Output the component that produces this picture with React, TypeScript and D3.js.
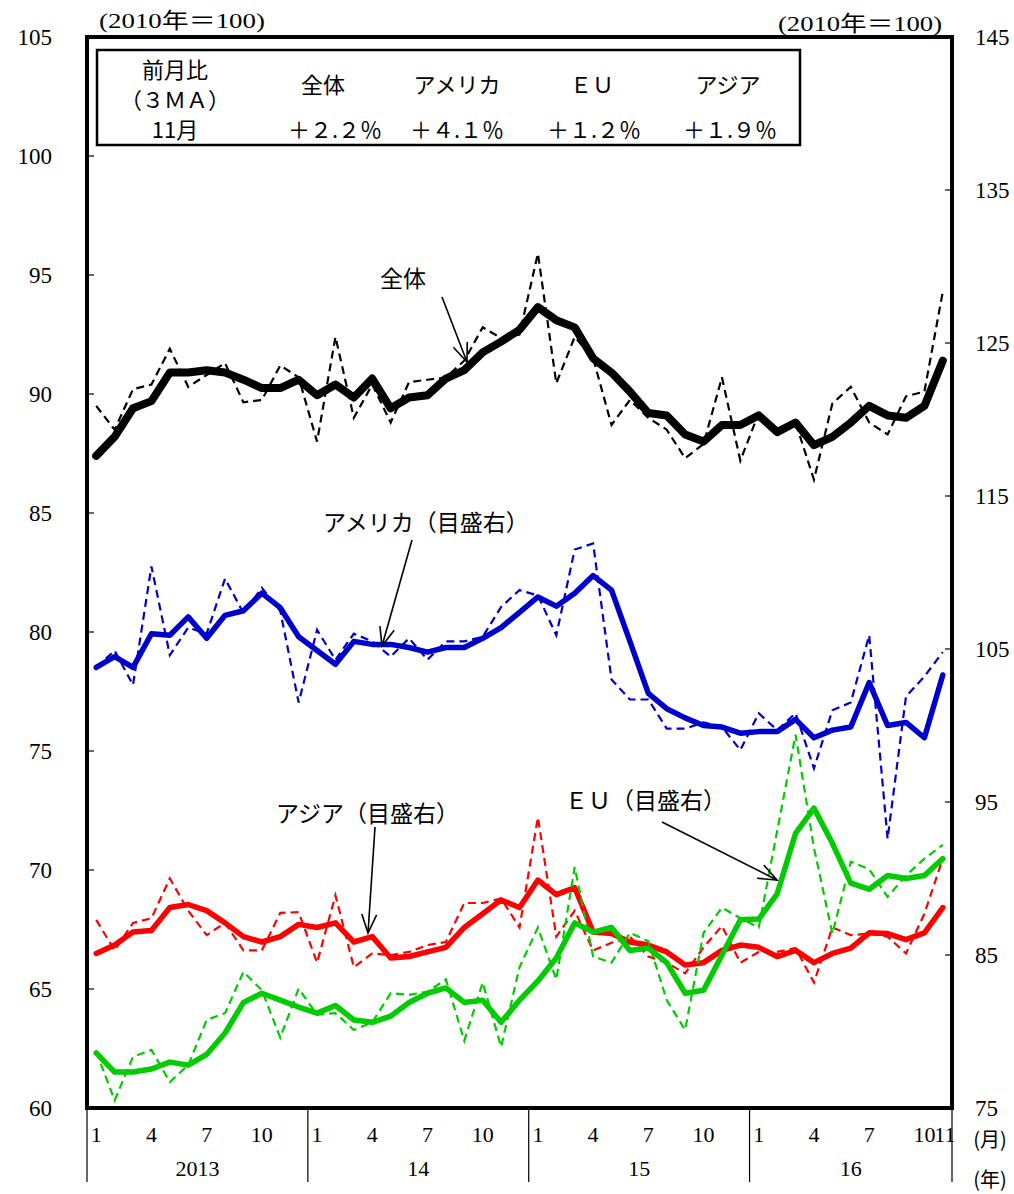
import React from "react";
import * as d3 from "d3";

// ---- data (Jan 2013 .. Nov 2016) ----
const years = ["2013", "14", "15", "16"];
const monthTickLabels = ["1", "4", "7", "10"];
const lastMonthLabel = "11";

const total3MA = [
  87.4, 88.2, 89.4, 89.7, 90.9, 90.9, 91.0, 90.9, 90.6, 90.25, 90.25, 90.6,
  89.95, 90.4, 89.85, 90.65, 89.4, 89.85, 89.95, 90.65, 91.0, 91.75, 92.2, 92.7,
  93.65, 93.1, 92.8, 91.5, 90.9, 90.1, 89.2, 89.1, 88.3, 88.0, 88.7, 88.7,
  89.1, 88.4, 88.8, 87.85, 88.2, 88.8, 89.5, 89.1, 89.0, 89.5, 91.4,
];
const totalMonthly = [
  89.5, 88.5, 90.2, 90.4, 91.9, 90.3, 90.8, 91.3, 89.65, 89.75, 91.2, 90.7,
  88.0, 92.4, 89.0, 90.4, 88.8, 90.5, 90.6, 90.7, 91.4, 92.8, 92.35, 92.5,
  95.9, 90.45, 92.4, 91.5, 88.7, 89.75, 89.0, 88.5, 87.3, 87.9, 90.7, 87.2,
  89.2, 88.5, 88.8, 86.4, 89.6, 90.3, 88.8, 88.3, 89.9, 90.1, 94.3,
];
const usa3MA = [
  103.8, 104.5, 103.8, 106.0, 105.9, 107.1, 105.7, 107.2, 107.5, 108.65, 107.7, 105.8,
  104.9, 104.0, 105.5, 105.3, 105.3, 105.1, 104.8, 105.1, 105.1, 105.7, 106.4, 107.4,
  108.4, 107.8, 108.65, 109.8, 108.85, 105.5, 102.1, 101.1, 100.5, 100.0, 99.9, 99.5,
  99.6, 99.6, 100.4, 99.2, 99.7, 99.9, 102.8, 100.0, 100.2, 99.2, 103.3,
];
const usaMonthly = [
  103.8, 104.9, 102.65, 110.4, 104.6, 106.4, 106.0, 109.6, 107.35, 109.0, 107.5, 101.5,
  106.25, 104.3, 106.0, 105.5, 104.5, 105.7, 104.3, 105.5, 105.5, 105.8, 107.75, 108.85,
  108.5, 105.9, 111.5, 111.9, 103.0, 101.7, 101.7, 99.8, 99.8, 100.2, 99.9, 98.4,
  100.8, 99.7, 100.8, 97.2, 101.0, 101.5, 105.9, 92.6, 101.9, 103.2, 104.8,
];
const asia3MA = [
  85.1, 85.65, 86.5, 86.6, 88.1, 88.3, 87.9, 87.1, 86.2, 85.85, 86.2, 87.0,
  86.8, 87.1, 85.85, 86.2, 84.8, 84.9, 85.2, 85.5, 86.8, 87.7, 88.6, 88.1,
  89.9, 88.95, 89.4, 86.5, 86.4, 85.85, 85.65, 85.2, 84.35, 84.5, 85.3, 85.65,
  85.5, 84.9, 85.3, 84.5, 85.1, 85.45, 86.45, 86.4, 86.0, 86.45, 88.1,
];
const asiaMonthly = [
  87.3, 85.3, 87.1, 87.4, 90.0, 87.9, 86.3, 87.1, 85.3, 85.3, 87.75, 87.8,
  84.5, 88.9, 84.2, 85.1, 85.0, 85.2, 85.65, 85.85, 88.4, 88.4, 88.7, 86.8,
  94.0, 86.2, 87.9, 85.3, 85.8, 86.2, 84.9, 84.5, 83.8, 85.5, 86.9, 84.5,
  85.2, 85.2, 85.45, 83.2, 86.8, 86.3, 86.4, 86.2, 85.1, 87.7, 91.3,
];
const eu3MA = [
  78.6, 77.35, 77.35, 77.55, 78.0, 77.8, 78.5, 79.9, 81.9, 82.5, 82.05, 81.6,
  81.2, 81.7, 80.75, 80.6, 81.0, 81.9, 82.5, 82.85, 81.9, 82.05, 80.6, 82.05,
  83.3, 84.8, 87.1, 86.5, 86.8, 85.3, 85.45, 84.5, 82.5, 82.7, 85.0, 87.3,
  87.35, 89.0, 92.95, 94.6, 92.3, 89.7, 89.3, 90.2, 90.0, 90.2, 91.3,
];
const euMonthly = [
  78.7, 75.5, 78.35, 78.8, 76.7, 77.8, 80.75, 81.2, 83.9, 82.7, 79.6, 82.8,
  81.1, 81.2, 80.1, 80.6, 82.5, 82.4, 82.6, 83.4, 79.4, 83.2, 79.0, 84.2,
  86.8, 83.4, 90.75, 84.9, 84.5, 86.45, 85.9, 82.05, 80.1, 86.45, 88.1, 87.4,
  86.8, 93.1, 99.4, 92.0, 86.4, 91.1, 90.6, 88.8, 90.2, 91.3, 92.2,
];

const leftTicks = [60, 65, 70, 75, 80, 85, 90, 95, 100, 105];
const rightTicks = [75, 85, 95, 105, 115, 125, 135, 145];

const tableHeaders = ["全体", "アメリカ", "ＥＵ", "アジア"];
const tableValues = ["＋２.２％", "＋４.１％", "＋１.２％", "＋１.９％"];

// ---- layout ----
const W = 1014, H = 1194;
const L = 87, R = 952, T = 37, B = 1108;
const SERIF = "'Liberation Serif', 'Noto Sans CJK JP', serif";
const JP = "'Noto Sans CJK JP', 'Liberation Serif', sans-serif";

const idx = d3.range(total3MA.length);
const x = d3.scalePoint<number>().domain(idx).range([L, R]).padding(0.5);
const yL = d3.scaleLinear().domain([60, 105]).range([B, T]);
const yR = d3.scaleLinear().domain([75, 145]).range([B, T]);

const mkLine = (ys: d3.ScaleLinear<number, number>) =>
  d3.line<number>().x((_, i) => x(i) as number).y((d) => ys(d));

function Arrow({ x1, y1, x2, y2 }: { x1: number; y1: number; x2: number; y2: number }) {
  const a = Math.atan2(y2 - y1, x2 - x1);
  const len = 20, sp = 0.38;
  const p1 = [x2 - len * Math.cos(a - sp), y2 - len * Math.sin(a - sp)];
  const p2 = [x2 - len * Math.cos(a + sp), y2 - len * Math.sin(a + sp)];
  return (
    <g stroke="#000" strokeWidth={1.6} fill="none">
      <line x1={x1} y1={y1} x2={x2} y2={y2} />
      <polyline points={`${p1[0]},${p1[1]} ${x2},${y2} ${p2[0]},${p2[1]}`} />
    </g>
  );
}

export default function App() {
  const lineL = mkLine(yL);
  const lineR = mkLine(yR);
  const series = [
    { m: totalMonthly, s: total3MA, c: "#000000", line: lineL, w: 8 },
    { m: usaMonthly, s: usa3MA, c: "#0000CC", line: lineR, w: 5.5 },
    { m: asiaMonthly, s: asia3MA, c: "#FF0000", line: lineR, w: 5.5 },
    { m: euMonthly, s: eu3MA, c: "#00CC00", line: lineR, w: 5.5 },
  ];
  const step = x.step();
  const monthTicks: { i: number; t: string }[] = [];
  years.forEach((_, yi) => {
    monthTickLabels.forEach((t) => monthTicks.push({ i: yi * 12 + (+t - 1), t }));
  });
  monthTicks.push({ i: total3MA.length - 1, t: lastMonthLabel });

  return (
    <svg width={W} height={H} style={{ position: "absolute", left: 0, top: 0, background: "#fff" }}>
      <rect x={0} y={0} width={W} height={H} fill="#fff" />
      {/* series */}
      {series.map((s, k) => (
        <g key={k}>
          <path d={s.line(s.s) || ""} fill="none" stroke={s.c} strokeWidth={s.w} strokeLinejoin="round" strokeLinecap="round" />
          <path d={s.line(s.m) || ""} fill="none" stroke={s.c} strokeWidth={2.2} strokeDasharray="8,5" />
        </g>
      ))}
      {/* frame */}
      <rect x={L} y={T} width={R - L} height={B - T} fill="none" stroke="#000" strokeWidth={4} />
      {/* left ticks */}
      {leftTicks.map((v) => (
        <g key={"l" + v}>
          <line x1={L} x2={L + 7} y1={yL(v)} y2={yL(v)} stroke="#000" strokeWidth={1.2} />
          <text x={52} y={yL(v) + 8} textAnchor="end" fontFamily={SERIF} fontSize={23}>{v}</text>
        </g>
      ))}
      {rightTicks.map((v) => (
        <g key={"r" + v}>
          <line x1={R - 7} x2={R} y1={yR(v)} y2={yR(v)} stroke="#000" strokeWidth={1.2} />
          <text x={975} y={yR(v) + 8} textAnchor="start" fontFamily={SERIF} fontSize={23}>{v}</text>
        </g>
      ))}
      {/* x axis */}
      {years.map((yl, yi) => {
        const x0 = yi === 0 ? L : (x(yi * 12) as number) - step / 2;
        const lastI = Math.min(yi * 12 + 11, total3MA.length - 1);
        const x1 = yi === years.length - 1 ? R : (x(lastI) as number) + step / 2;
        return (
          <g key={yl}>
            <line x1={x0} x2={x0} y1={B} y2={1182} stroke="#000" strokeWidth={1.2} />
            <text x={(x0 + x1) / 2} y={1176} textAnchor="middle" fontFamily={SERIF} fontSize={22}>{yl}</text>
          </g>
        );
      })}
      <line x1={R} x2={R} y1={B} y2={1182} stroke="#000" strokeWidth={1.2} />
      {monthTicks.map((m, k) => (
        <text key={k} x={(x(m.i) as number) + (m.t === lastMonthLabel ? 2 : 0)} y={1142} textAnchor="middle" fontFamily={SERIF} fontSize={22}>{m.t}</text>
      ))}
      <text x={990} y={1147} textAnchor="middle" fontFamily={JP} fontSize={20}>(月)</text>
      <text x={990} y={1187} textAnchor="middle" fontFamily={JP} fontSize={20}>(年)</text>
      {/* unit labels */}
      <text x={99} y={28} textLength={166} lengthAdjust="spacingAndGlyphs" fontFamily={SERIF} fontSize={22}>(2010年＝100)</text>
      <text x={778} y={31} textLength={164} lengthAdjust="spacingAndGlyphs" fontFamily={SERIF} fontSize={22}>(2010年＝100)</text>
      {/* table */}
      <rect x={97} y={50} width={703} height={95} fill="#fff" stroke="#000" strokeWidth={2.5} />
      <text x={175} y={78} textAnchor="middle" fontFamily={JP} fontSize={22}>前月比</text>
      <text x={175} y={108} textAnchor="middle" fontFamily={JP} fontSize={22}>（３ＭＡ）</text>
      <text x={175} y={138} textAnchor="middle" fontFamily={JP} fontSize={22}>11月</text>
      {tableHeaders.map((h, k) => (
        <text key={h} x={[323, 457, 592, 728][k]} y={93} textAnchor="middle" fontFamily={JP} fontSize={22}>{h}</text>
      ))}
      {tableValues.map((h, k) => (
        <text key={h} x={[335, 457, 594, 730][k]} y={138} textAnchor="middle" fontFamily={JP} fontSize={22}>{h}</text>
      ))}
      {/* annotations */}
      <text x={380} y={287} fontFamily={JP} fontSize={23}>全体</text>
      <Arrow x1={442} y1={297} x2={467} y2={362} />
      <text x={323} y={531} fontFamily={JP} fontSize={23}>アメリカ（目盛右）</text>
      <Arrow x1={412} y1={540} x2={382} y2={646} />
      <text x={276} y={822} fontFamily={JP} fontSize={23}>アジア（目盛右）</text>
      <Arrow x1={375} y1={827} x2={368} y2={933} />
      <text x={565} y={809} fontFamily={JP} fontSize={23}>ＥＵ（目盛右）</text>
      <Arrow x1={662} y1={822} x2={777} y2={880} />
    </svg>
  );
}
